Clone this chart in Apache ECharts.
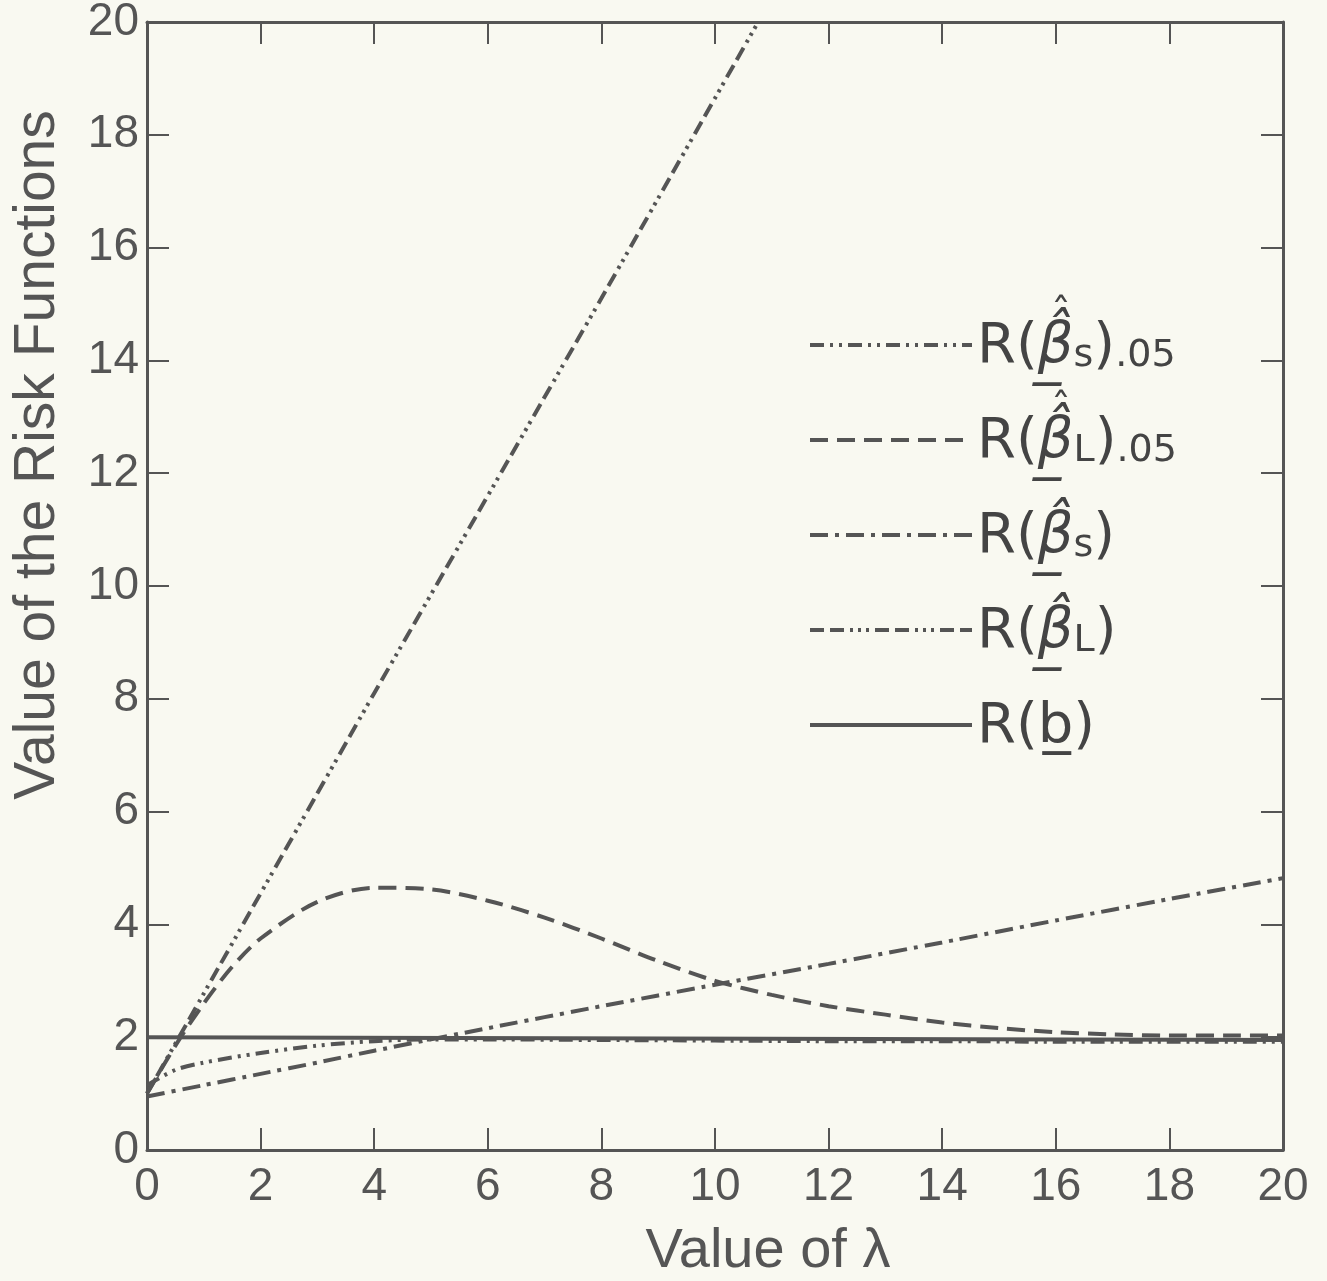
<!DOCTYPE html>
<html>
<head>
<meta charset="utf-8">
<script src="https://cdn.jsdelivr.net/npm/echarts@6/dist/echarts.min.js"></script>
<style>
  html, body { margin: 0; padding: 0; background: #f9f9f1; }
  #chart { width: 1327px; height: 1281px; }
</style>
</head>
<body>
<div id="chart"></div>
<script>
// values
var xTicks = [0, 2, 4, 6, 8, 10, 12, 14, 16, 18, 20];

var lamS05 = [0, 0.5, 1, 2, 3, 4, 5, 6, 8, 10, 12, 14, 16, 18, 20];
var riskS05 = [1.15, 1.42, 1.55, 1.72, 1.85, 1.93, 1.96, 1.96, 1.95, 1.94, 1.93, 1.93, 1.92, 1.92, 1.92];

var lamL05 = [0, 0.5, 1, 1.5, 2, 3, 4, 5, 6, 7, 8, 9, 10, 11, 12, 13, 14, 15, 16, 17, 18, 19, 20];
var riskL05 = [1.0, 1.85, 2.6, 3.25, 3.75, 4.4, 4.65, 4.62, 4.42, 4.12, 3.75, 3.35, 3.0, 2.75, 2.55, 2.4, 2.26, 2.16, 2.09, 2.05, 2.03, 2.03, 2.03];

var lamS = [0, 1, 2, 3, 4, 6, 8, 10, 12, 14, 16, 18, 20];
var riskS = [0.95, 1.15, 1.35, 1.55, 1.76, 2.16, 2.55, 2.93, 3.3, 3.68, 4.07, 4.45, 4.82];

var lamL = [0, 2, 4, 6, 8, 10, 10.76];
var riskL = [1.0, 4.55, 8.1, 11.6, 15.1, 18.65, 20];

var lamB = [0, 20];
var riskB = [2.0, 1.95];

var names = ['S05', 'L05', 'S', 'L', 'B'];
// first line holds the second hat of the double-hat estimators
var legendText = {
    S05: '{h|ˆ}\n{m|R(}{g|β̲̂}{s|s}{m|)}{s|.05}',
    L05: '{h|ˆ}\n{m|R(}{g|β̲̂}{s|L}{m|)}{s|.05}',
    S: '{h| }\n{m|R(}{g|β̲̂}{s|s}{m|)}',
    L: '{h| }\n{m|R(}{g|β̲̂}{s|L}{m|)}',
    B: '{h| }\n{m|R(}{m|b̲}{m|)}'
};

var ink = '#555';

function pairs(xs, ys) {
    return xs.map(function (x, i) { return [x, ys[i]]; });
}

function lineSeries(name, xs, ys, dash, smooth) {
    return {
        name: name,
        type: 'line',
        data: pairs(xs, ys),
        symbol: 'none',
        smooth: smooth,
        clip: true,
        lineStyle: { color: ink, width: 4, type: dash },
        itemStyle: { color: ink }
    };
}

var axisCommon = {
    type: 'value',
    min: 0,
    max: 20,
    interval: 2,
    splitLine: { show: false },
    axisLine: { show: true, onZero: false, lineStyle: { color: ink, width: 3 } },
    axisTick: { show: true, inside: true, length: 22, lineStyle: { color: ink, width: 2 } }
};

var option = {
    backgroundColor: '#f9f9f1',
    animation: false,
    grid: { left: 147, right: 44, top: 22, bottom: 131, containLabel: false, outerBoundsMode: 'none' },
    legend: {
        orient: 'vertical',
        left: 803,
        top: 292,
        itemWidth: 162,
        itemHeight: 14,
        itemGap: 17,
        data: names,
        itemStyle: { opacity: 0 },
        lineStyle: { width: 4 },
        formatter: function (name) { return legendText[name]; },
        textStyle: {
            color: '#444',
            rich: {
                h: { fontFamily: 'DejaVu Sans', fontSize: 40, lineHeight: 4, color: '#444', padding: [0, 0, 0, 74] },
                m: { fontFamily: 'DejaVu Sans', fontSize: 56, color: '#444', verticalAlign: 'bottom' },
                g: { fontFamily: 'DejaVu Sans', fontStyle: 'italic', fontSize: 56, color: '#444', verticalAlign: 'bottom' },
                s: { fontFamily: 'DejaVu Sans', fontSize: 38, color: '#444', verticalAlign: 'bottom' }
            }
        }
    },
    xAxis: [
        Object.assign({}, axisCommon, {
            position: 'bottom',
            name: 'Value of λ',
            nameLocation: 'middle',
            nameGap: 74,
            nameTextStyle: { fontFamily: 'Liberation Sans', fontSize: 56, color: ink, padding: [0, 0, 0, 106] },
            axisLabel: { fontFamily: 'Liberation Sans', fontSize: 46, color: ink, margin: 14 }
        }),
        Object.assign({}, axisCommon, {
            position: 'top',
            axisLabel: { show: false }
        })
    ],
    yAxis: [
        Object.assign({}, axisCommon, {
            position: 'left',
            name: 'Value of the Risk Functions',
            nameLocation: 'middle',
            nameGap: 80,
            nameTextStyle: { fontFamily: 'Liberation Sans', fontSize: 57, color: ink, padding: [0, 0, 0, 262] },
            axisLabel: { fontFamily: 'Liberation Sans', fontSize: 46, color: ink, margin: 8 }
        }),
        Object.assign({}, axisCommon, {
            position: 'right',
            axisLabel: { show: false }
        })
    ],
    series: [
        lineSeries('S05', lamS05, riskS05, [14, 6, 3, 6, 3, 6], 0.3),
        lineSeries('L05', lamL05, riskL05, [18, 9], 0.3),
        lineSeries('S', lamS, riskS, [18, 7, 4, 7], 0.2),
        lineSeries('L', lamL, riskL, [14, 6, 14, 6, 3, 5, 3, 5, 3, 6], false),
        lineSeries('B', lamB, riskB, 'solid', false)
    ]
};

var myChart = echarts.init(document.getElementById('chart'));
myChart.setOption(option);
</script>
</body>
</html>
